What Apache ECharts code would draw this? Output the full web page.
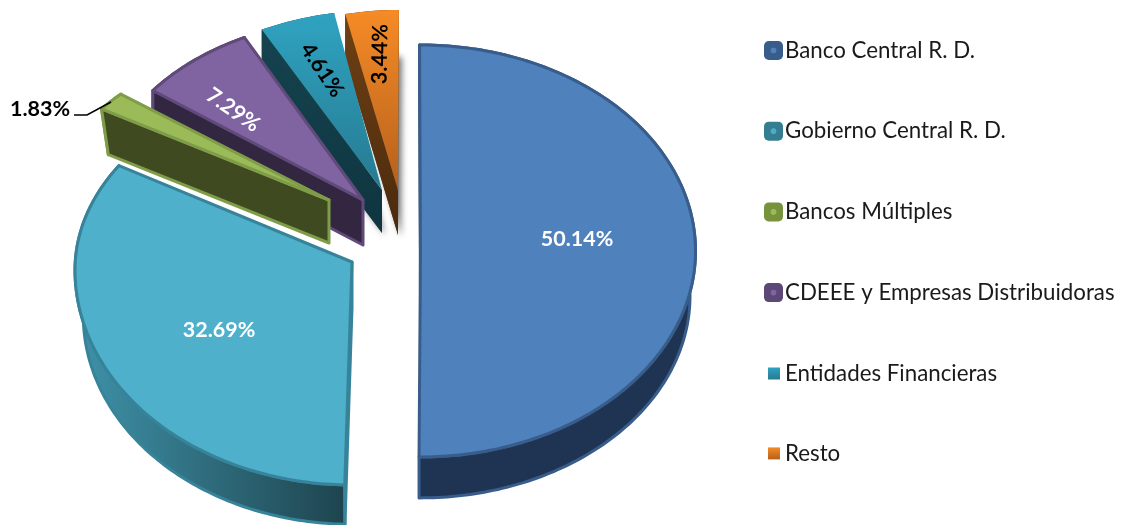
<!DOCTYPE html>
<html>
<head>
<meta charset="utf-8">
<style>html,body{margin:0;padding:0;background:#fff;overflow:hidden}#c{width:1129px;height:525px}</style>
<script src="https://cdn.jsdelivr.net/npm/echarts@6/dist/echarts.min.js"></script>
</head>
<body>
<div id="c"></div>
<script>
var categories = ['Banco Central R. D.', 'Gobierno Central R. D.', 'Bancos Múltiples', 'CDEEE y Empresas Distribuidoras', 'Entidades Financieras', 'Resto'];
var shares = [50.14, 32.69, 1.83, 7.29, 4.61, 3.44];

var FONT = 'Lato, "Open Sans", sans-serif';
var total = shares.reduce(function (a, b) { return a + b; }, 0);
function vGrad(a, b) { return { type: 'linear', x: 0, y: 0, x2: 0, y2: 1, colorStops: [{ offset: 0, color: a }, { offset: 1, color: b }] }; }
function hGrad(a, b) { return { type: 'linear', x: 0, y: 0, x2: 1, y2: 0, colorStops: [{ offset: 0, color: a }, { offset: 1, color: b }] }; }
function dot(light, dark) {
  return { type: 'radial', x: 0.5, y: 0.5, r: 0.5, colorStops: [
    { offset: 0, color: light }, { offset: 0.28, color: light }, { offset: 0.34, color: dark }, { offset: 1, color: dark }] };
}

// Projection of each exploded slice of the tilted pie
var looks = [
  { ax: 420.5, ay: 251, cy: 251, rx: 275, ry: 206, ryBack: 206, depth: 45, k: 0.98, shift: -0.2, stretch: 1, z: 6,
    top: '#4f81bd', edge: '#385d8a', wall: '#1f3353', face: '#1f3353', lw: 3,
    label: { x: 577, y: 239, rot: 0, fill: '#fff' } },
  { ax: 352, ay: 262, cy: 270, rx: 277, ry: 215, ryBack: 193, depth: 46, k: 0.97, shift: 1, stretch: 1.03, z: 5,
    top: '#4eb0cb', edge: '#37849a', wall: hGrad('#3f93aa', '#1e444e'), face: '#37849a', lw: 3,
    label: { x: 219, y: 330, rot: 0, fill: '#fff' } },
  { ax: 329, ay: 200, cy: 200, rx: 275, ry: 162, ryBack: 162, depth: 43, k: 0.97, shift: 6, stretch: 1, z: 4,
    top: '#9bbb59', edge: '#7f9c49', wall: '#3f4a21', face: '#3f4a21', lw: 3,
    label: { x: 40, y: 109, rot: 0, fill: '#000' },
    leader: [[74, 115], [87, 115], [111, 102]] },
  { ax: 363, ay: 200, cy: 200, rx: 263, ry: 182, ryBack: 182, depth: 45, k: 1, shift: 2.2, stretch: 1, z: 3,
    top: '#8064a2', edge: '#5f4a7a', wall: '#322640', face: '#322640', lw: 3,
    label: { x: 233, y: 110, rot: -35, fill: '#fff' } },
  { ax: 382, ay: 190, cy: 190, rx: 265, ry: 180, ryBack: 180, depth: 43, k: 1, shift: 2, stretch: 1, z: 2,
    top: vGrad('#2fa3c1', '#267a91'), edge: null, wall: '#123c49', face: vGrad('#15434f', '#0e3540'), lw: 0, shadow: true,
    label: { x: 322, y: 70, rot: -56, fill: '#000' } },
  { ax: 398, ay: 190, cy: 190, rx: 250, ry: 180, ryBack: 180, depth: 45, k: 1, shift: 0.2, stretch: 1, z: 1,
    top: vGrad('#f68b26', '#b5601c'), edge: null, wall: '#5f3510', face: vGrad('#6f4014', '#4a2a0c'), lw: 0, shadow: true,
    label: { x: 380, y: 54, rot: 89, fill: '#000' } }
];
var legendFills = [
  dot('#4f81bd', '#385d8a'), dot('#4bacc6', '#357d91'), dot('#9bbb59', '#76923c'),
  dot('#8064a2', '#5c4776'), vGrad('#2fa3c1', '#267a91'), vGrad('#f68b26', '#b5601c')
];

function sliceRender(i) {
  return function (params, api) {
    var value = api.value(0);
    var before = shares.slice(0, i).reduce(function (a, b) { return a + b; }, 0);
    var L = looks[i];
    var t0 = before / total * 360 + L.shift;
    var t1 = t0 + value / total * 360 * L.stretch;
    var rim = [];
    var steps = Math.max(4, Math.ceil(t1 - t0));
    for (var k = 0; k <= steps; k++) {
      var t = (t0 + (t1 - t0) * k / steps) * Math.PI / 180;
      var c = Math.cos(t);
      rim.push([L.ax + L.rx * Math.sin(t), L.cy - (c > 0 ? L.ryBack : L.ry) * c]);
    }
    var apex = [L.ax, L.ay];
    function down(p) {
      return [apex[0] + (p[0] - apex[0]) * L.k, apex[1] + (p[1] - apex[1]) * L.k + L.depth];
    }
    var wallPts = rim.concat(rim.slice().reverse().map(down));
    var facePts = [apex, rim[0], down(rim[0]), down(apex)];
    var topPts = [apex].concat(rim);
    var kids = [];
    if (L.shadow) {
      kids.push({ type: 'polygon', shape: { points: [down(apex)].concat(rim.map(down)) },
        style: { fill: '#555', shadowBlur: 6, shadowColor: 'rgba(0,0,0,0.55)', shadowOffsetX: 3, shadowOffsetY: 2 } });
    }
    kids.push({ type: 'polygon', shape: { points: wallPts }, style: { fill: L.wall, stroke: L.edge || L.wall, lineWidth: L.lw, lineJoin: 'round' } });
    kids.push({ type: 'polygon', shape: { points: facePts }, style: { fill: L.face, stroke: L.edge || undefined, lineWidth: L.lw, lineJoin: 'round' } });
    kids.push({ type: 'polygon', shape: { points: topPts }, style: { fill: L.top, stroke: L.edge || undefined, lineWidth: L.lw, lineJoin: 'round' } });
    if (L.leader) {
      kids.push({ type: 'polyline', shape: { points: L.leader }, style: { fill: null, stroke: '#000', lineWidth: 1.5 } });
    }
    kids.push({
      type: 'text', x: L.label.x, y: L.label.y, rotation: L.label.rot * Math.PI / 180,
      style: { text: value.toFixed(2) + '%', fill: L.label.fill, font: 'bold 21.5px ' + FONT, align: 'center', verticalAlign: 'middle' }
    });
    return { type: 'group', children: kids };
  };
}

var series = categories.map(function (name, i) {
  return {
    type: 'custom', name: name, coordinateSystem: 'none', z: looks[i].z,
    silent: true, animation: false, clip: false,
    itemStyle: { color: legendFills[i] },
    data: [[shares[i]]],
    renderItem: sliceRender(i)
  };
});

function legendBlock(names, start, left, top, size, gap) {
  return {
    orient: 'vertical', left: left, top: top, padding: 0, itemWidth: size, itemHeight: size, itemGap: gap,
    icon: size > 15 ? 'roundRect' : 'rect', selectedMode: false,
    textStyle: { fontFamily: FONT, fontSize: 22.3, color: '#1a1a1a', lineHeight: size, padding: [0, 0, 0, size > 15 ? -3 : 0] },
    data: names.map(function (n, j) { return { name: n, itemStyle: { color: legendFills[start + j] } }; })
  };
}

var chart = echarts.init(document.getElementById('c'), null, { renderer: 'canvas' });
chart.setOption({
  backgroundColor: '#fff',
  animation: false,
  legend: [
    legendBlock(categories.slice(0, 4), 0, 764, 39.5, 19, 58.7),
    legendBlock(categories.slice(4), 4, 768, 362.5, 12, 57.9)
  ],
  series: series
});
</script>
</body>
</html>
